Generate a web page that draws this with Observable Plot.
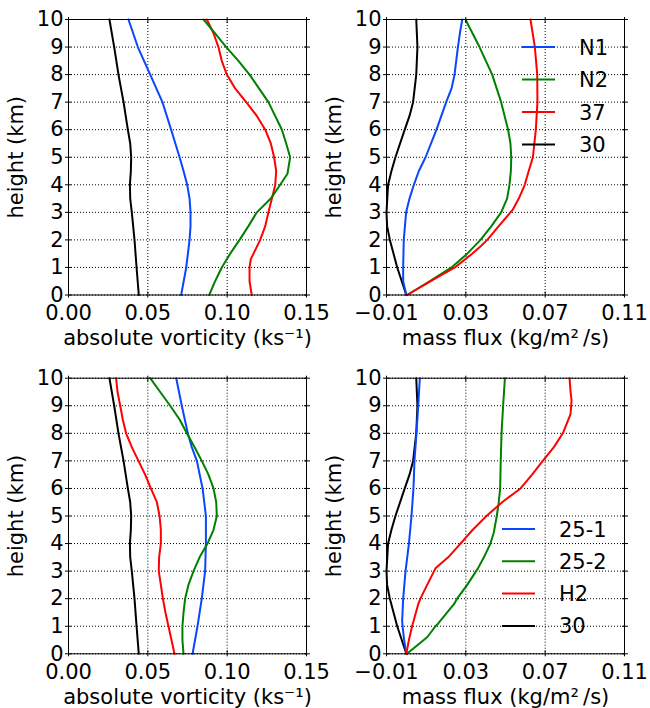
<!DOCTYPE html>
<html><head><meta charset="utf-8">
<script src="https://cdn.jsdelivr.net/npm/d3@7"></script>
<script src="https://cdn.jsdelivr.net/npm/@observablehq/plot@0.6"></script>
<style>
body{margin:0;background:#fff;}
#fig{position:relative;width:650px;height:708px;background:#fff;font-family:"DejaVu Sans";overflow:hidden;}
#fig svg{position:absolute;overflow:visible;}
</style></head><body><div id="fig"></div>
<script>
// ---- data: [height km, value] ----
const vort30 = [[10,0.0258],[9,0.0288],[8,0.0315],[7,0.0347],[6,0.0374],[5.5,0.0389],[5,0.0395],[4.5,0.0393],[4,0.0387],[3.5,0.0389],[3,0.0399],[2,0.0416],[1,0.0429],[0,0.0443]];
const vortN1 = [[10,0.0378],[9,0.0437],[8,0.0515],[7,0.0592],[6,0.0647],[5,0.0700],[4.5,0.0725],[4,0.0748],[3.5,0.0763],[3,0.0769],[2.5,0.0769],[2,0.0763],[1,0.0742],[0,0.0710]];
const vortN2 = [[10,0.0851],[9.5,0.0924],[9,0.0994],[8.5,0.1071],[8,0.1141],[7,0.1260],[6,0.1345],[5.5,0.1372],[5,0.1397],[4.4,0.1380],[4,0.1334],[3.5,0.1275],[3,0.1187],[2.5,0.1134],[2,0.1078],[1.5,0.1019],[1.2,0.0987],[1,0.0966],[0.5,0.0924],[0,0.0887]];
const vort37 = [[10,0.0872],[9.5,0.0914],[9,0.0945],[8.5,0.0966],[8,0.0998],[7.5,0.1050],[7,0.1120],[6.5,0.1187],[6,0.1240],[5.5,0.1275],[5,0.1296],[4.5,0.1309],[4,0.1303],[3.5,0.1282],[3,0.1260],[2.5,0.1240],[2,0.1208],[1.5,0.1166],[1.3,0.1149],[1,0.1141],[0.5,0.1141],[0,0.1155]];
const vortH2 = [[10,0.0300],[9.5,0.0309],[9,0.0326],[8.5,0.0342],[8,0.0363],[7.5,0.0399],[7,0.0441],[6.5,0.0483],[6,0.0519],[5.5,0.0557],[5,0.0574],[4.5,0.0582],[4,0.0582],[3.5,0.0571],[3,0.0569],[2.5,0.0582],[2,0.0595],[1.5,0.0611],[1,0.0630],[0.5,0.0649],[0,0.0668]];
const vort251 = [[10,0.0679],[9,0.0714],[8,0.0752],[7.5,0.0777],[7,0.0809],[6,0.0845],[5,0.0866],[4,0.0866],[3,0.0861],[2,0.0840],[1,0.0813],[0,0.0782]];
const vort252 = [[10,0.0515],[9.5,0.0578],[9,0.0641],[8.5,0.0700],[8,0.0746],[7.5,0.0794],[7,0.0840],[6.5,0.0882],[6,0.0914],[5.5,0.0931],[5,0.0935],[4.5,0.0914],[4,0.0876],[3.5,0.0826],[3,0.0788],[2.5,0.0756],[2,0.0735],[1.5,0.0725],[1,0.0718],[0.5,0.0718],[0,0.0725]];

const flux30 = [[10,0.0050],[9,0.0056],[8,0.0050],[7,0.0034],[6.5,0.0016],[6,-0.0008],[5,-0.0055],[4.5,-0.0075],[4,-0.0092],[3,-0.0100],[2.5,-0.0097],[2,-0.0083],[1,-0.0046],[0,0.0000]];
const fluxN1 = [[10,0.0282],[9.5,0.0270],[9,0.0260],[8,0.0243],[7.5,0.0228],[7,0.0201],[6,0.0152],[5,0.0097],[4.5,0.0063],[4,0.0038],[3.5,0.0016],[3,-0.0001],[2,-0.0013],[1,-0.0016],[0.5,-0.0016],[0,0.0000]];
const fluxN2 = [[10,0.0298],[9,0.0369],[8,0.0433],[7,0.0478],[6,0.0513],[5.5,0.0525],[5,0.0529],[4.5,0.0527],[4,0.0520],[3.5,0.0508],[3,0.0478],[2.5,0.0429],[2,0.0374],[1.5,0.0307],[1,0.0228],[0.5,0.0117],[0,0.0004]];
const flux37 = [[10,0.0626],[9,0.0648],[8,0.0660],[7,0.0661],[6,0.0653],[5,0.0638],[4.4,0.0613],[4,0.0597],[3.5,0.0567],[3.1,0.0537],[3,0.0525],[2.5,0.0466],[2,0.0408],[1.8,0.0379],[1.5,0.0332],[1,0.0245],[0.6,0.0147],[0,0.0004]];
const fluxH2 = [[10,0.0823],[9.5,0.0828],[9.2,0.0833],[8.7,0.0828],[8,0.0789],[7.5,0.0744],[7,0.0688],[6.5,0.0634],[6,0.0576],[5.5,0.0483],[5,0.0404],[4.5,0.0335],[4,0.0273],[3.5,0.0211],[3.1,0.0147],[2.5,0.0105],[2,0.0071],[1.8,0.0060],[1,0.0029],[0.5,0.0013],[0,0.0000]];
const flux251 = [[10,0.0068],[9,0.0060],[8,0.0051],[7,0.0041],[6,0.0036],[5,0.0026],[4,0.0013],[3,-0.0004],[2,-0.0016],[1.2,-0.0021],[1,-0.0019],[0.5,-0.0011],[0,0.0000]];
const flux252 = [[10,0.0497],[9,0.0488],[8,0.0480],[7,0.0476],[6,0.0473],[5.5,0.0466],[5,0.0456],[4.4,0.0441],[4,0.0424],[3.5,0.0391],[3.1,0.0361],[3,0.0352],[2.5,0.0307],[2,0.0256],[1.8,0.0240],[1.5,0.0206],[1.1,0.0161],[1,0.0147],[0.6,0.0105],[0,0.0003]];

const yTicks = [0,1,2,3,4,5,6,7,8,9,10];
const vortTicks = [0, 0.05, 0.10, 0.15];
const fluxTicks = [-0.01, 0.03, 0.07, 0.11];
const vortLabel = "absolute vorticity (ks\u207B\u00B9)";
const fluxLabel = "mass flux (kg/m\u00B2\u2009/s)";
const topNames = ["N1","N2","37","30"];
const botNames = ["25-1","25-2","H2","30"];

const C = {blue:"#0a46ff", green:"#008000", red:"#ff0000", black:"#000000"};
const legendColors = [C.blue, C.green, C.red, C.black];

const fig = document.getElementById("fig");

function panel(series, o) {
  const gridStyle = {stroke:"#000", strokeOpacity:1, strokeWidth:1, strokeDasharray:"1,2"};
  const p = Plot.plot({
    width: 325, height: 354,
    marginLeft: o.ml, marginRight: o.mr, marginTop: o.mt, marginBottom: o.mb,
    style: {fontFamily: "DejaVu Sans", fontSize: "21px", background: "transparent", color: "#000", overflow: "visible"},
    x: {domain: o.xDomain},
    y: {domain: [0, 10]},
    marks: [
      Plot.gridX(o.xTicks, gridStyle),
      Plot.gridY(yTicks, gridStyle),
      ...series.map(s => Plot.line(s.data, {x: d => d[1], y: d => d[0], stroke: s.color, strokeWidth: 2})),
      Plot.frame({stroke: "#000", strokeWidth: 1}),
      Plot.axisX(o.xTicks, {anchor: "bottom", tickSize: 6, dy: -3, fill: "none", label: null}),
      Plot.axisX(o.xTicks, {anchor: "top", tickSize: 6, dy: 3, fill: "none", label: null}),
      Plot.axisY(yTicks, {anchor: "left", tickSize: 6, dx: 3, fill: "none", label: null}),
      Plot.axisY(yTicks, {anchor: "right", tickSize: 6, dx: -3, fill: "none", label: null}),
      Plot.axisX(o.xTicks, {anchor: "bottom", tickSize: 0, tickPadding: 10, tickFormat: d3.format(".2f"),
        label: o.xLabel, labelAnchor: "center", labelArrow: "none", labelOffset: 50}),
      Plot.axisY(yTicks, {anchor: "left", tickSize: 0, tickPadding: 5, tickFormat: d3.format("d"),
        label: "height (km)", labelAnchor: "center", labelArrow: "none", labelOffset: 60})
    ]
  });
  p.style.left = o.left + "px";
  p.style.top = o.top + "px";
  fig.appendChild(p);
}

function legend(names, left, top, step) {
  const svg = d3.select(fig).append("svg")
    .style("left", left + "px").style("top", (top - 15) + "px")
    .attr("width", 130).attr("height", 140);
  names.forEach((n, i) => {
    const y = 15 + i * step;
    svg.append("line").attr("x1", 0).attr("x2", 33).attr("y1", y).attr("y2", y)
      .attr("stroke", legendColors[i]).attr("stroke-width", 2);
    svg.append("text").attr("x", 57).attr("y", y).attr("dy", "0.36em")
      .attr("font-family", "DejaVu Sans").attr("font-size", 21).attr("fill", "#000").text(n);
  });
}

panel([
  {data: vort30, color: C.black}, {data: vortN1, color: C.blue},
  {data: vort37, color: C.red}, {data: vortN2, color: C.green}
], {left: 0, top: 0, ml: 68, mr: 19, mt: 19, mb: 59.5, xDomain: [0, 0.15], xTicks: vortTicks, xLabel: vortLabel});

panel([
  {data: flux30, color: C.black}, {data: fluxN1, color: C.blue},
  {data: fluxN2, color: C.green}, {data: flux37, color: C.red}
], {left: 325, top: 0, ml: 61, mr: 26, mt: 19, mb: 59.5, xDomain: [-0.01, 0.11], xTicks: fluxTicks, xLabel: fluxLabel});

panel([
  {data: vort30, color: C.black}, {data: vortH2, color: C.red},
  {data: vort251, color: C.blue}, {data: vort252, color: C.green}
], {left: 0, top: 354, ml: 68, mr: 19, mt: 23.7, mb: 54.7, xDomain: [0, 0.15], xTicks: vortTicks, xLabel: vortLabel});

panel([
  {data: flux30, color: C.black}, {data: flux251, color: C.blue},
  {data: flux252, color: C.green}, {data: fluxH2, color: C.red}
], {left: 325, top: 354, ml: 61, mr: 26, mt: 23.7, mb: 54.7, xDomain: [-0.01, 0.11], xTicks: fluxTicks, xLabel: fluxLabel});

legend(topNames, 522, 47.3, 32.5);
legend(botNames, 502, 529, 32.3);
</script></body></html>
